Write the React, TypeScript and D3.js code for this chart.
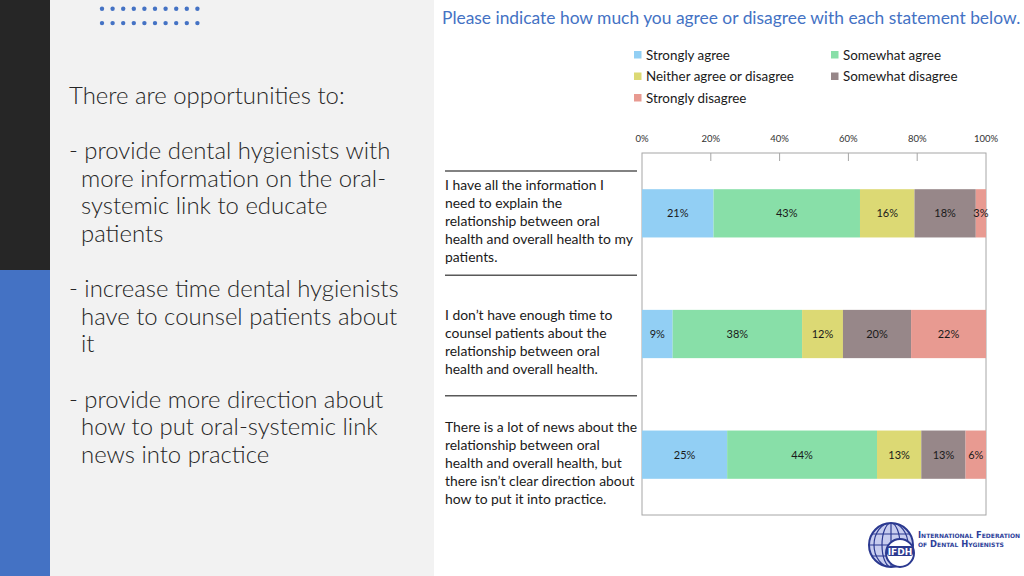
import * as d3 from 'd3';

// survey data
const categories = ['info', 'time', 'news'];
const categoryLines = [
  ['I have all the information I', 'need to explain the', 'relationship between oral', 'health and overall health to my', 'patients.'],
  ['I don\u2019t have enough time to', 'counsel patients about the', 'relationship between oral', 'health and overall health.'],
  ['There is a lot of news about the', 'relationship between oral', 'health and overall health, but', 'there isn\u2019t clear direction about', 'how to put it into practice.'],
];
const seriesNames = ['Strongly agree', 'Somewhat agree', 'Neither agree or disagree', 'Somewhat disagree', 'Strongly disagree'];
const stronglyAgree = [21, 9, 25];
const somewhatAgree = [43, 38, 44];
const neitherAgree = [16, 12, 13];
const somewhatDisagree = [18, 20, 13];
const stronglyDisagree = [3, 22, 6];
const xTicks = [0, 0.2, 0.4, 0.6, 0.8, 1];

const title = 'Please indicate how much you agree or disagree with each statement below.';
const introLines: { text: string; indent: boolean; row: number }[] = [
  { text: 'There are opportunities to:', indent: false, row: 0 },
  { text: '- provide dental hygienists with', indent: false, row: 2 },
  { text: 'more information on the oral-', indent: true, row: 3 },
  { text: 'systemic link to educate', indent: true, row: 4 },
  { text: 'patients', indent: true, row: 5 },
  { text: '- increase time dental hygienists', indent: false, row: 7 },
  { text: 'have to counsel patients about', indent: true, row: 8 },
  { text: 'it', indent: true, row: 9 },
  { text: '- provide more direction about', indent: false, row: 11 },
  { text: 'how to put oral-systemic link', indent: true, row: 12 },
  { text: 'news into practice', indent: true, row: 13 },
];

const colors = ['#92cff4', '#88dfa8', '#dcd974', '#978789', '#e89a91'];
const font = 'Lato, "Open Sans", sans-serif';

const W = 1024;
const H = 576;
const plot = { left: 642, right: 986, top: 153, bottom: 515 };

export default function App() {
  const rows = categories.map((c, i) => ({
    cat: c,
    [seriesNames[0]]: stronglyAgree[i],
    [seriesNames[1]]: somewhatAgree[i],
    [seriesNames[2]]: neitherAgree[i],
    [seriesNames[3]]: somewhatDisagree[i],
    [seriesNames[4]]: stronglyDisagree[i],
  }));
  const raw = [stronglyAgree, somewhatAgree, neitherAgree, somewhatDisagree, stronglyDisagree];

  const stack = d3
    .stack<any>()
    .keys(seriesNames)
    .offset(d3.stackOffsetExpand);
  const layers = stack(rows);

  const x = d3.scaleLinear().domain([0, 1]).range([plot.left, plot.right]);
  const y = d3
    .scaleBand()
    .domain(categories)
    .range([plot.top, plot.bottom])
    .paddingInner(0.6)
    .paddingOuter(0.3);
  const color = d3.scaleOrdinal<string>().domain(seriesNames).range(colors);
  const pct = d3.format('.0%');

  const lineH = 18;
  const sepY = (i: number) =>
    i === 0 ? plot.top + 18 : (y(categories[i]) as number) - (y.step() * y.paddingInner()) / 2 + 1.5;

  // globe logo
  const gx = 891;
  const gy = 545;
  const gr = 22;

  return (
    <svg width={W} height={H} style={{ position: 'absolute', left: 0, top: 0 }} fontFamily={font}>
      <rect x={0} y={0} width={W} height={H} fill="#ffffff" />
      {/* left panel */}
      <rect x={50} y={0} width={384} height={H} fill="#f2f2f2" />
      <rect x={0} y={0} width={50} height={270} fill="#262626" />
      <rect x={0} y={270} width={50} height={H - 270} fill="#4472c4" />
      {d3.range(2).map((r) =>
        d3.range(10).map((c) => (
          <circle key={`d${r}-${c}`} cx={102 + c * 10.6} cy={8.7 + r * 14.4} r={2.2} fill="#4472c4" />
        )),
      )}
      {introLines.map((l, i) => (
        <text
          key={`intro${i}`}
          x={l.indent ? 81 : 69}
          y={104 + l.row * 27.6}
          fontSize={23.9}
          fontWeight={300}
          fill="#262626"
        >
          {l.text}
        </text>
      ))}

      {/* title */}
      <text x={442} y={24} fontSize={17.4} fill="#4472c4">
        {title}
      </text>

      {/* legend */}
      {seriesNames.map((s, i) => {
        const lx = i % 2 === 0 ? 634 : 831;
        const ly = 51 + Math.floor(i / 2) * 21.5;
        return (
          <g key={`leg${i}`}>
            <rect x={lx} y={ly} width={7.5} height={7.5} fill={color(s)} />
            <text x={lx + 12} y={ly + 8.5} fontSize={13.4} fill="#1a1a1a">
              {s}
            </text>
          </g>
        );
      })}

      {/* axis */}
      {xTicks.map((t) => (
        <text key={`xt${t}`} x={x(t)} y={141.5} fontSize={9.5} textAnchor="middle" fill="#333">
          {pct(t)}
        </text>
      ))}
      <rect
        x={plot.left}
        y={plot.top}
        width={plot.right - plot.left}
        height={plot.bottom - plot.top}
        fill="#ffffff"
        stroke="#a6a6a6"
        strokeWidth={1}
      />
      {xTicks.slice(1, -1).map((t) => (
        <line key={`tk${t}`} x1={x(t)} x2={x(t)} y1={plot.top} y2={plot.top + 8} stroke="#a6a6a6" />
      ))}

      {/* bars */}
      {layers.map((layer, si) =>
        layer.map((d, ci) => {
          const x0 = x(d[0]);
          const x1 = x(d[1]);
          const yy = y(categories[ci]) as number;
          return (
            <g key={`b${si}-${ci}`}>
              <rect x={x0} y={yy} width={x1 - x0} height={y.bandwidth()} fill={color(layer.key)} />
              <text
                x={(x0 + x1) / 2}
                y={yy + y.bandwidth() / 2 + 4}
                fontSize={11}
                textAnchor="middle"
                fill="#1a1a1a"
              >
                {raw[si][ci]}%
              </text>
            </g>
          );
        }),
      )}

      {/* category labels */}
      {categories.map((c, i) => {
        const lines = categoryLines[i];
        const mid = (y(c) as number) + y.bandwidth() / 2;
        const first = mid - ((lines.length - 1) * lineH) / 2 + 4 + 9;
        return (
          <g key={`cat${c}`}>
            <line x1={445} x2={637} y1={sepY(i)} y2={sepY(i)} stroke="#595959" strokeWidth={1.5} />
            {lines.map((ln, j) => (
              <text key={j} x={445} y={first + j * lineH} fontSize={13.9} fill="#1a1a1a">
                {ln}
              </text>
            ))}
          </g>
        );
      })}

      {/* IFDH logo */}
      <defs>
        <clipPath id="globe">
          <circle cx={gx} cy={gy} r={gr} />
        </clipPath>
      </defs>
      <path
        d={`M ${gx + 6} ${gy - gr + 1} A ${gr} ${gr} 0 0 1 ${gx + gr - 1} ${gy - 6} L ${gx + 14} ${gy - 4} Z`}
        fill="#f2e34a"
      />
      <circle cx={gx} cy={gy} r={gr} fill="#c8cdef" stroke="#2b3990" strokeWidth={2} />
      <g clipPath="url(#globe)" stroke="#2b3990" strokeWidth={1.2} fill="none">
        <ellipse cx={gx} cy={gy} rx={9} ry={gr} />
        <ellipse cx={gx} cy={gy} rx={17} ry={gr} />
        <line x1={gx} x2={gx} y1={gy - gr} y2={gy + gr} />
        <line x1={gx - gr} x2={gx + gr} y1={gy - 11} y2={gy - 11} />
        <line x1={gx - gr} x2={gx + gr} y1={gy} y2={gy} />
        <line x1={gx - gr} x2={gx + gr} y1={gy + 11} y2={gy + 11} />
      </g>
      <circle cx={gx + 9} cy={gy + 8} r={14} fill="#ffffff" stroke="#2b3990" strokeWidth={2} />
      <rect x={gx - 4} y={gy + 1} width={26} height={10} rx={3} fill="#2b3990" />
      <text x={gx + 9} y={gy + 9.5} fontSize={9} fontWeight={700} textAnchor="middle" fill="#ffffff" fontFamily="'DejaVu Sans', sans-serif">
        IFDH
      </text>
      <text x={918} y={538} fontSize={8.4} fontWeight={700} fill="#2e3f9a" fontFamily="'DejaVu Sans', sans-serif" style={{ fontVariant: 'small-caps' }}>
        International Federation
      </text>
      <text x={918} y={546.5} fontSize={8.4} fontWeight={700} fill="#2e3f9a" fontFamily="'DejaVu Sans', sans-serif" style={{ fontVariant: 'small-caps' }}>
        of Dental Hygienists
      </text>
    </svg>
  );
}
